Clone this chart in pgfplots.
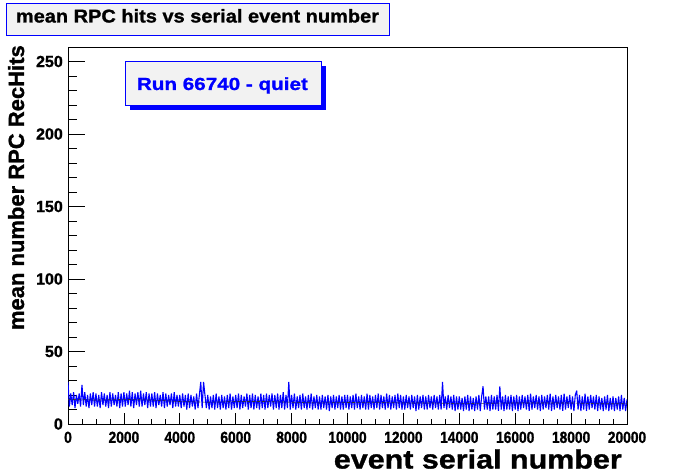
\documentclass[border=0pt]{standalone}
\usepackage{pgfplots}
\pgfplotsset{compat=1.18}
\usepackage{fontspec}
\setmainfont{Liberation Sans}[BoldFeatures={FakeBold=1.2}]
\newfontfamily\titleF{Liberation Sans}[FakeStretch=1.08, BoldFeatures={FakeBold=1.2}]
\newfontfamily\runF{Liberation Sans}[FakeStretch=1.18, BoldFeatures={FakeBold=1.2}]
\newfontfamily\xlabF{Liberation Sans}[FakeStretch=1.15, BoldFeatures={FakeBold=1.2}]
\newfontfamily\xtickF{Liberation Sans}[FakeStretch=0.86, BoldFeatures={FakeBold=1.2}]
\definecolor{boxfill}{RGB}{242,242,242}
\begin{document}
\begin{tikzpicture}
\path[use as bounding box, fill=white] (-68bp,-48bp) rectangle (628bp,424bp);
\begin{axis}[
  at={(0,0)}, anchor=south west,
  scale only axis, width=559bp, height=377bp,
  xmin=0, xmax=20000, ymin=0, ymax=260,
  axis line style={black, line width=0.75bp},
  tick pos=left, tick align=inside,
  xtick={0,2000,...,20000}, ytick={0,50,...,250},
  minor x tick num=3, minor y tick num=4,
  scaled x ticks=false,
  /pgf/number format/1000 sep={},
  /pgf/number format/assume math mode=true,
  xtick style={black, line width=0.75bp, /pgfplots/major tick length=11bp, /pgfplots/minor tick length=5bp},
  ytick style={black, line width=0.75bp, /pgfplots/major tick length=17bp, /pgfplots/minor tick length=9bp},
  xticklabel style={font=\xtickF\bfseries\fontsize{16bp}{16bp}\selectfont, anchor=north, inner sep=0pt, yshift=-7.5bp},
  yticklabel style={font=\bfseries\fontsize{16bp}{16bp}\selectfont, anchor=east, inner sep=0pt, xshift=-5bp},
]
\addplot[blue, line width=1.1bp, mark=none, line join=bevel] table[row sep=\\, header=false, x expr=\coordindex*50, y index=0] {
29\\12\\21\\13\\22\\11\\20\\14\\21\\12\\27\\13\\22\\12\\20\\11\\21\\13\\22\\12\\
21\\12\\20\\11\\22\\13\\21\\12\\20\\11\\22\\12\\21\\13\\20\\12\\22\\11\\21\\12\\
22\\12\\21\\13\\23\\12\\22\\11\\21\\13\\22\\12\\23\\12\\21\\13\\22\\11\\21\\12\\
21\\12\\22\\11\\21\\13\\20\\12\\22\\11\\21\\12\\20\\13\\21\\11\\22\\12\\20\\12\\
20\\11\\21\\12\\20\\10\\21\\11\\20\\12\\19\\10\\21\\11\\20\\29\\11\\29\\20\\11\\
20\\10\\19\\11\\20\\10\\21\\11\\19\\10\\20\\11\\19\\10\\20\\11\\21\\10\\19\\11\\
20\\11\\21\\10\\20\\11\\19\\12\\21\\10\\20\\11\\21\\10\\20\\11\\19\\10\\21\\11\\
20\\10\\21\\11\\20\\12\\21\\10\\20\\11\\21\\10\\20\\11\\22\\10\\20\\11\\29\\10\\
20\\11\\21\\10\\19\\11\\20\\10\\21\\11\\19\\10\\20\\11\\21\\10\\19\\11\\20\\10\\
19\\10\\20\\11\\19\\10\\20\\9\\19\\11\\20\\10\\19\\11\\20\\10\\19\\10\\20\\11\\
20\\10\\19\\11\\20\\10\\21\\11\\19\\10\\20\\11\\19\\10\\21\\10\\20\\11\\19\\10\\
20\\11\\21\\10\\20\\11\\19\\10\\21\\11\\20\\10\\19\\11\\20\\10\\21\\11\\20\\10\\
19\\10\\20\\11\\19\\10\\20\\11\\19\\9\\20\\10\\19\\11\\20\\10\\19\\10\\20\\11\\
19\\10\\20\\11\\19\\10\\20\\10\\29\\11\\19\\10\\20\\11\\19\\10\\20\\9\\19\\10\\
19\\10\\18\\9\\19\\10\\20\\9\\19\\10\\18\\9\\19\\10\\20\\9\\19\\26\\10\\19\\
10\\19\\9\\20\\10\\19\\10\\20\\9\\26\\10\\19\\9\\20\\10\\19\\10\\20\\9\\19\\
10\\20\\9\\19\\10\\20\\11\\19\\10\\20\\9\\21\\10\\19\\11\\20\\10\\19\\9\\20\\
10\\19\\11\\20\\10\\21\\9\\19\\10\\20\\11\\19\\10\\20\\9\\21\\10\\19\\11\\20\\
10\\19\\9\\20\\23\\10\\20\\9\\19\\10\\21\\9\\19\\10\\20\\11\\19\\10\\20\\9\\
19\\10\\18\\9\\19\\10\\20\\9\\18\\10\\19\\9\\18\\10\\19\\9\\20\\10\\18\\9\\
17\\
};
\addplot[black!80, line width=0.6bp, densely dashed, mark=none] coordinates {
(0,17) (1000,16.5) (2000,17) (3000,16.5) (4000,15.5) (5000,15) (6000,15.5) (7000,15.5) (8000,15) (9000,14.5) (10000,14.8) (11000,15) (12000,14.5) (13000,14.5) (14000,14) (15000,14.3) (16000,14.5) (17000,14.5) (18000,14.5) (19000,14) (20000,14)
};
\end{axis}
% title box
\filldraw[draw=blue, fill=boxfill, line width=0.75bp] (-62bp,389bp) rectangle (321bp,421bp);
\node[anchor=base, inner sep=0pt, font=\titleF\bfseries\fontsize{18.5bp}{18.5bp}\selectfont] at (129.5bp,401.5bp) {mean RPC hits vs serial event number};
% run box
\fill[blue] (62bp,314bp) rectangle (258bp,358bp);
\filldraw[draw=blue, fill=boxfill, line width=0.75bp] (57bp,319bp) rectangle (253bp,363bp);
\node[anchor=base, inner sep=0pt, text=blue, font=\runF\bfseries\fontsize{17.5bp}{17.5bp}\selectfont] at (154.4bp,334bp) {Run 66740 - quiet};
% axis labels
\node[anchor=base east, inner sep=0pt, font=\xlabF\bfseries\fontsize{26.5bp}{26.5bp}\selectfont] at (554bp,-44.5bp) {event serial number};
\node[anchor=base east, rotate=90, inner sep=0pt, font=\bfseries\fontsize{22bp}{22bp}\selectfont] at (-44bp,379bp) {mean number RPC RecHits};
\end{tikzpicture}
\end{document}
